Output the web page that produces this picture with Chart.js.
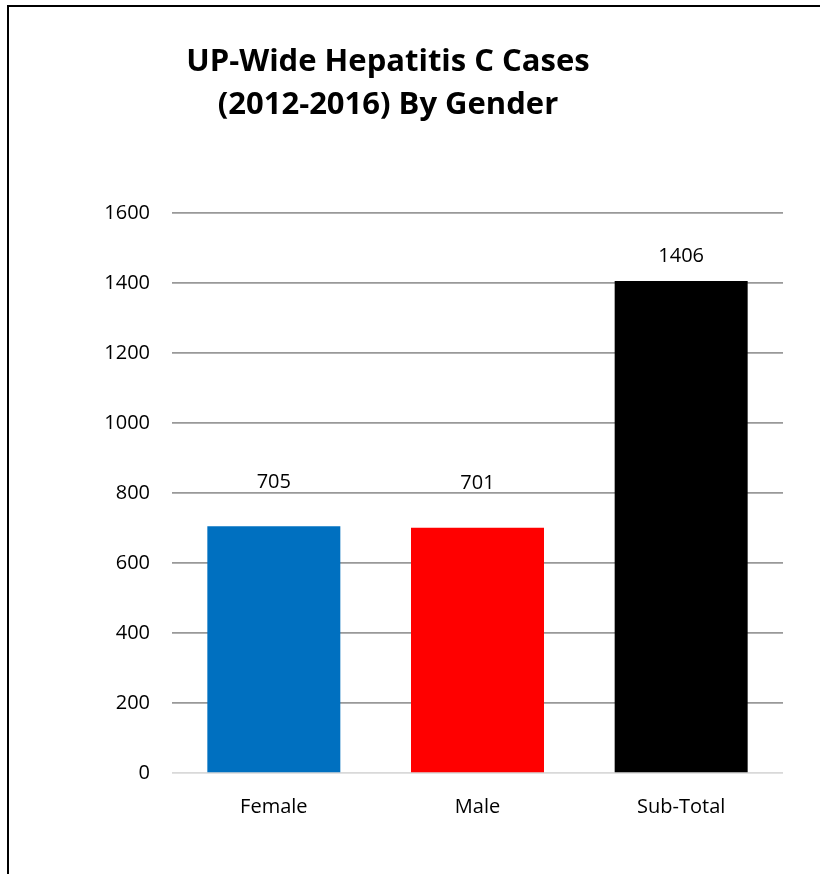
<!DOCTYPE html>
<html>
<head>
<meta charset="utf-8">
<script src="https://cdn.jsdelivr.net/npm/chart.js@4.4.1/dist/chart.umd.min.js"></script>
<style>
    html, body { margin: 0; padding: 0; background: #fff; overflow: hidden; }
    #moldura { position: absolute; left: 7px; top: 5px; width: 830px; height: 890px;
               border-left: 2px solid #000; border-top: 2px solid #000; }
    #area { position: absolute; left: 0; top: 0; width: 820px; height: 874px; }
</style>
</head>
<body>
<div id="moldura"></div>
<div id="area"><canvas id="graficoCasos"></canvas></div>
<script>
const categorias = ['Female', 'Male', 'Sub-Total'];
const casos = [705, 701, 1406];
const coresBarras = ['#0070c0', '#ff0000', '#000000'];
const linhasTitulo = ['UP-Wide Hepatitis C Cases', '(2012-2016) By Gender'];

const fonte = "'Open Sans', 'DejaVu Sans', sans-serif";

// titulo desenhado a mao porque no original ele nao fica centrado no grafico
const pluginTitulo = {
    id: 'tituloManual',
    afterDraw(chart) {
        const c = chart.ctx;
        c.save();
        c.font = 'bold 31px ' + fonte;
        c.fillStyle = '#000';
        c.textAlign = 'center';
        c.textBaseline = 'alphabetic';
        c.fillText(linhasTitulo[0], 388, 71);
        c.fillText(linhasTitulo[1], 388, 114);
        c.restore();
    }
};

const pluginRotulos = {
    id: 'rotulosBarras',
    afterDatasetsDraw(chart, args, opts) {
        const c = chart.ctx;
        const meta = chart.getDatasetMeta(0);
        c.save();
        c.font = '20px ' + fonte;
        c.fillStyle = '#000';
        c.textAlign = 'center';
        c.textBaseline = 'middle';
        meta.data.forEach(function (barra, i) {
            c.fillText(String(casos[i]), barra.x, barra.y - opts.distancias[i]);
        });
        c.restore();
    }
};

new Chart(document.getElementById('graficoCasos'), {
    type: 'bar',
    data: {
        labels: categorias,
        datasets: [{
            data: casos,
            backgroundColor: coresBarras,
            borderWidth: 0,
            categoryPercentage: 1,
            barPercentage: 0.653
        }]
    },
    options: {
        responsive: true,
        maintainAspectRatio: false,
        animation: false,
        layout: { padding: { left: 0, right: 37, top: 213, bottom: 0 } },
        plugins: {
            legend: { display: false },
            tooltip: { enabled: false },
            rotulosBarras: { distancias: [44, 44, 25] }
        },
        scales: {
            x: {
                grid: { display: false },
                border: { display: false },
                ticks: { color: '#000', font: { family: fonte, size: 20 }, padding: 14 },
                afterFit(scale) { scale.height = 101; }
            },
            y: {
                min: 0,
                max: 1600,
                ticks: {
                    stepSize: 200,
                    color: '#000',
                    font: { family: fonte, size: 20 },
                    padding: 22,
                    callback: (v) => String(v)
                },
                grid: {
                    drawTicks: false,
                    lineWidth: 1.7,
                    color: (ctx) => ctx.tick && ctx.tick.value === 0 ? '#d9d9d9' : '#999999'
                },
                border: { display: false },
                afterFit(scale) { scale.width = 172; }
            }
        }
    },
    plugins: [pluginTitulo, pluginRotulos]
});
</script>
</body>
</html>
